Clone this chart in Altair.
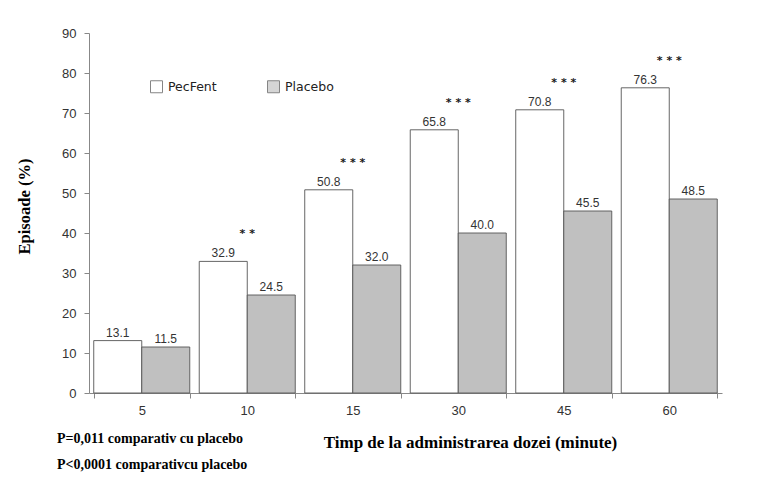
import altair as alt
import pandas as pd

categories = ["5", "10", "15", "30", "45", "60"]
pecfent = [13.1, 32.9, 50.8, 65.8, 70.8, 76.3]
placebo = [11.5, 24.5, 32.0, 40.0, 45.5, 48.5]
stars = ["", "**", "***", "***", "***", "***"]
series = ["PecFent", "Placebo"]
series_colors = ["#ffffff", "#c0c0c0"]
y_ticks = list(range(0, 91, 10))
notes = ["P=0,011 comparativ cu placebo", "P<0,0001 comparativcu placebo"]

rows = []
for c, a, b in zip(categories, pecfent, placebo):
    rows.append({"time": c, "series": series[0], "value": a})
    rows.append({"time": c, "series": series[1], "value": b})
df = pd.DataFrame(rows)

star_df = pd.DataFrame({"time": categories, "value": pecfent,
                        "stars": [" ".join(s) for s in stars]})
star_df = star_df[star_df["stars"] != ""]

x_enc = alt.X(
    "time:N",
    sort=categories,
    scale=alt.Scale(paddingInner=0.09, paddingOuter=0.045),
    axis=alt.Axis(
        title="Timp de la administrarea dozei (minute)",
        labelAngle=0,
        tickBand="extent",
        tickSize=5,
        labelPadding=6,
        labelFont="Liberation Sans",
        labelFontSize=13,
        labelColor="#333333",
        domainColor="#888888",
        tickColor="#888888",
        titleFont="Liberation Serif",
        titleFontSize=17,
        titleFontWeight="bold",
        titleColor="#000000",
        titleX=381,
        titleY=54,
        titleAlign="center",
        titleBaseline="alphabetic",
    ),
)
y_enc = alt.Y(
    "value:Q",
    scale=alt.Scale(domain=[0, 90], nice=False),
    axis=alt.Axis(
        title="Episoade (%)",
        values=y_ticks,
        tickCount=10,
        labelOverlap=False,
        tickSize=5,
        labelPadding=8,
        labelFont="Liberation Sans",
        labelFontSize=13,
        labelColor="#333333",
        domainColor="#888888",
        tickColor="#888888",
        grid=False,
        titleFont="Liberation Serif",
        titleFontSize=16.5,
        titleFontWeight="bold",
        titleColor="#000000",
        titleX=-65,
        titleY=173,
        titleAngle=270,
        titleAlign="center",
        titleBaseline="middle",
    ),
)

bars = alt.Chart(df).mark_bar(stroke="#555555", strokeWidth=0.9).encode(
    x=x_enc,
    xOffset=alt.XOffset("series:N", sort=series,
                        scale=alt.Scale(paddingInner=0, paddingOuter=0)),
    y=y_enc,
    fill=alt.Fill(
        "series:N",
        scale=alt.Scale(domain=series, range=series_colors),
        legend=alt.Legend(
            title=None,
            orient="none",
            legendX=61,
            legendY=47,
            direction="horizontal",
            symbolType="square",
            symbolSize=144,
            symbolStrokeColor="#444444",
            symbolStrokeWidth=1,
            symbolOpacity=0.65,
            labelFont="DejaVu Sans",
            labelFontSize=12.5,
            labelColor="#222222",
            labelOffset=5,
            columnPadding=48,
        ),
    ),
)

labels = alt.Chart(df).mark_text(
    dy=-8, font="Liberation Sans", fontSize=12, color="#333333", baseline="middle"
).encode(
    x=x_enc,
    xOffset=alt.XOffset("series:N", sort=series),
    y=y_enc,
    text=alt.Text("value:Q", format=".1f"),
)

star_marks = alt.Chart(star_df).mark_text(
    dy=-27, font="DejaVu Sans", fontSize=11, fontWeight="bold", color="#1a1a1a",
    baseline="middle"
).encode(
    x=x_enc,
    y=y_enc,
    text="stars:N",
)

note1 = alt.Chart(alt.Data(values=[{"t": notes[0]}])).mark_text(
    align="left", baseline="middle", font="Liberation Serif", fontSize=14,
    fontWeight="bold", color="#000000"
).encode(x=alt.value(-32), y=alt.value(406), text="t:N")

note2 = alt.Chart(alt.Data(values=[{"t": notes[1]}])).mark_text(
    align="left", baseline="middle", font="Liberation Serif", fontSize=14,
    fontWeight="bold", color="#000000"
).encode(x=alt.value(-32), y=alt.value(432), text="t:N")

chart = alt.layer(bars, labels, star_marks, note1, note2).properties(
    width=633,
    height=360,
    autosize=alt.AutoSizeParams(type="none"),
    padding={"left": 89, "top": 33, "right": 56, "bottom": 85},
    background="#ffffff",
).configure_view(stroke=None)

chart.save("out.html", embed_options={"renderer": "svg", "actions": False})
